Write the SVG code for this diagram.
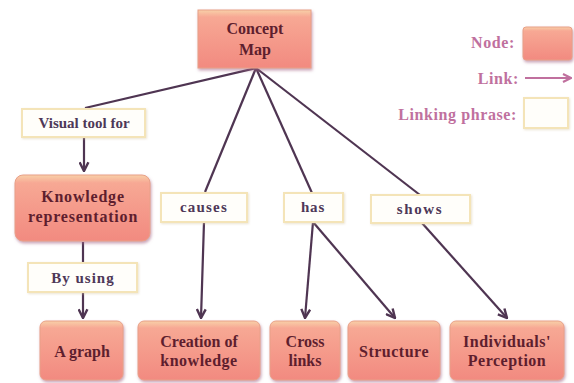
<svg xmlns="http://www.w3.org/2000/svg" width="574" height="383" viewBox="0 0 574 383">
<style>
.node rect{fill:url(#ng);stroke:#e8a088;stroke-width:1;filter:url(#sh)}
.lp rect{fill:#fffefa;stroke:#f4e4b8;stroke-width:2;filter:url(#sh2)}
text{font-family:"Liberation Serif","Times New Roman","DejaVu Serif",serif;font-weight:bold}
.nt{font-size:16px;fill:#5e1e2e;text-anchor:middle}
.lt{font-size:15px;fill:#4e3858;text-anchor:middle}
.leg{font-size:16px;fill:#c0709e;text-anchor:end;letter-spacing:0.6px}
.conn line{stroke:#4f3552;stroke-width:2.2;fill:none}
.arr{marker-end:url(#ah)}
</style>
<defs>
<linearGradient id="ng" x1="0" y1="0" x2="0" y2="1">
<stop offset="0" stop-color="#f8d0a8"/>
<stop offset="0.12" stop-color="#f7a894"/>
<stop offset="1" stop-color="#f28a80"/>
</linearGradient>
<filter id="sh" x="-10%" y="-10%" width="125%" height="130%">
<feDropShadow dx="1" dy="2" stdDeviation="1.5" flood-color="#a86a8a" flood-opacity="0.6"/>
</filter>
<filter id="sh2" x="-10%" y="-10%" width="125%" height="130%">
<feDropShadow dx="1" dy="1" stdDeviation="1" flood-color="#d8c8a8" flood-opacity="0.5"/>
</filter>
<marker id="ah" viewBox="0 0 10 10" refX="9" refY="5" markerWidth="5" markerHeight="5" orient="auto" markerUnits="strokeWidth">
<path d="M1,1 L9,5 L1,9" fill="none" stroke="#4f3552" stroke-width="2.2"/>
</marker>
<marker id="ahl" viewBox="0 0 10 10" refX="9" refY="5" markerWidth="5" markerHeight="5" orient="auto" markerUnits="strokeWidth">
<path d="M1,1 L9,5 L1,9" fill="none" stroke="#c0709e" stroke-width="2.2"/>
</marker>
</defs>

<g id="connectors" class="conn">
<line x1="256" y1="68" x2="85" y2="108"/>
<line class="arr" x1="84" y1="137" x2="84" y2="171"/>
<line x1="83" y1="242" x2="83" y2="263"/>
<line class="arr" x1="83" y1="292" x2="83" y2="318"/>
<line x1="256" y1="68" x2="205" y2="192"/>
<line class="arr" x1="204" y1="222" x2="201" y2="318"/>
<line x1="256" y1="68" x2="312" y2="193"/>
<line class="arr" x1="313" y1="222" x2="305" y2="318"/>
<line class="arr" x1="313" y1="222" x2="395" y2="318"/>
<line x1="256" y1="68" x2="420" y2="195"/>
<line class="arr" x1="422" y1="223" x2="507" y2="318"/>
</g>

<g id="concept-map" class="node">
<rect x="198" y="10" width="113" height="58"/>
<text class="nt" x="255" y="34" font-size="17">Concept</text>
<text class="nt" x="255" y="55" font-size="17">Map</text>
</g>

<g id="lp-visual" class="lp">
<rect x="22" y="109" width="123" height="28"/>
<text class="lt" x="84" y="128" font-size="14">Visual tool for</text>
</g>

<g id="knowledge-representation" class="node">
<rect x="15" y="175" width="135" height="66" rx="8"/>
<text class="nt" x="83" y="202" letter-spacing="0.8">Knowledge</text>
<text class="nt" x="83" y="222" letter-spacing="0.8">representation</text>
</g>

<g id="lp-byusing" class="lp">
<rect x="28" y="263" width="109" height="29"/>
<text class="lt" x="83" y="283" letter-spacing="1">By using</text>
</g>

<g id="lp-causes" class="lp">
<rect x="161" y="193" width="86" height="29"/>
<text class="lt" x="204" y="212" letter-spacing="1.2">causes</text>
</g>

<g id="lp-has" class="lp">
<rect x="284" y="193" width="59" height="29"/>
<text class="lt" x="313" y="212" letter-spacing="0.8">has</text>
</g>

<g id="lp-shows" class="lp">
<rect x="371" y="195" width="99" height="28"/>
<text class="lt" x="420" y="214" letter-spacing="1.6">shows</text>
</g>

<g id="a-graph" class="node">
<rect x="40" y="321" width="83" height="59" rx="6"/>
<text class="nt" x="82" y="357">A graph</text>
</g>

<g id="creation" class="node">
<rect x="138" y="321" width="122" height="59" rx="6"/>
<text class="nt" x="199" y="347">Creation of</text>
<text class="nt" x="199" y="366" letter-spacing="0.5">knowledge</text>
</g>

<g id="cross-links" class="node">
<rect x="270" y="321" width="70" height="59" rx="6"/>
<text class="nt" x="305" y="347">Cross</text>
<text class="nt" x="305" y="366">links</text>
</g>

<g id="structure" class="node">
<rect x="348" y="321" width="92" height="59" rx="6"/>
<text class="nt" x="394" y="357" letter-spacing="0.5">Structure</text>
</g>

<g id="individuals" class="node">
<rect x="450" y="321" width="114" height="59" rx="6"/>
<text class="nt" x="507" y="347" letter-spacing="0.5">Individuals'</text>
<text class="nt" x="507" y="366" letter-spacing="0.5">Perception</text>
</g>

<g id="legend">
<text class="leg" x="515" y="48">Node:</text>
<g class="node"><rect x="523" y="27" width="49" height="33" rx="3"/></g>
<text class="leg" x="519" y="84">Link:</text>
<line x1="525" y1="78" x2="571" y2="78" stroke="#c0709e" stroke-width="2" marker-end="url(#ahl)"/>
<text class="leg" x="517" y="120">Linking phrase:</text>
<g class="lp"><rect x="524" y="98" width="44" height="30"/></g>
</g>
</svg>
